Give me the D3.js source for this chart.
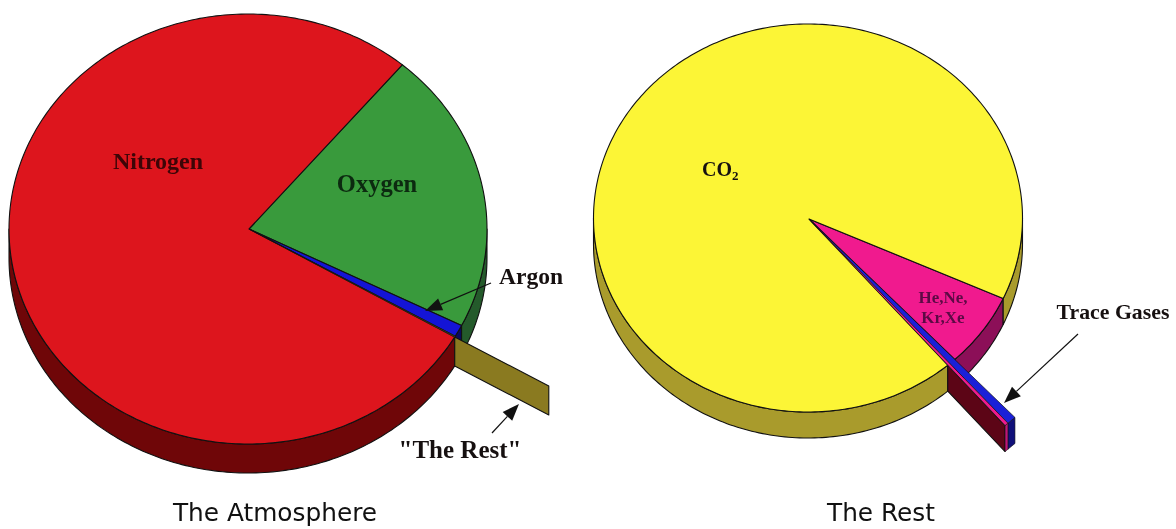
<!DOCTYPE html>
<html><head><meta charset="utf-8">
<script src="https://cdn.jsdelivr.net/npm/d3@7"></script>
<style>html,body{margin:0;background:#fff}svg{display:block;filter:blur(.5px)}</style></head>
<body><svg id="c" width="1176" height="529"></svg>
<script>
// Data (percent of each pie, in clockwise order)
const atmosphereNames = ["Oxygen","Argon","The Rest","Nitrogen"];
const atmosphereValues = [21.25,0.89,0.06,77.8];
const restNames = ["He,Ne,Kr,Xe","Trace A","Trace B","CO2"];
const restValues = [6.2,0.5,0.2,93.1];

const atmosphereTop = ["#399a3c","#1414d6","#8a7a20","#dd151d"];
const atmosphereSide = ["#245a2b","#0a0a60","#8a7a20","#6f0608"];
const restTop = ["#f01a8e","#1a20d8","#f01a8e","#fcf536"];
const restSide = ["#8c0f58","#10107a","#c01478","#a99b2c"];

const svg = d3.select("#c");
const line = d3.line().x(d=>d[0]).y(d=>d[1]);
const deg = Math.PI/180;

function drawPie(cfg){
  const x = d3.scaleLinear().domain([-1,1]).range([cfg.cx-cfg.rx,cfg.cx+cfg.rx]);
  const y = d3.scaleLinear().domain([-1,1]).range([cfg.cy-cfg.ry,cfg.cy+cfg.ry]);
  const P = (t,r,dz=0)=>[x(r*Math.sin(t)), y(-r*Math.cos(t))+dz];
  const apex = [cfg.ax,cfg.ay];
  const arcs = d3.pie().sort(null).value(d=>d.v)
    .startAngle(cfg.start*deg).endAngle((cfg.start+360)*deg)(cfg.names.map((n,i)=>({n,v:cfg.values[i],top:cfg.top[i],side:cfg.side[i],out:cfg.explode.includes(n)})));
  const samples=(a,b)=>{const n=Math.max(2,Math.ceil((b-a)/deg));return d3.range(n+1).map(i=>a+(b-a)*i/n)};
  const g = svg.append("g").attr("stroke","#111").attr("stroke-width",1.1).attr("stroke-linejoin","round");
  arcs.filter(a=>!a.data.out).forEach(a=>{
    [[a.startAngle,a.endAngle],[a.startAngle-2*Math.PI,a.endAngle-2*Math.PI]].forEach(([s,e])=>{
      const s2=Math.max(s,90*deg), e2=Math.min(e,270*deg);
      if(e2<=s2) return;
      const ts=samples(s2,e2);
      const pts=ts.map(t=>P(t,1)).concat(ts.slice().reverse().map(t=>P(t,1,cfg.depth)));
      g.append("path").attr("d",line(pts)+"Z").attr("fill",a.data.side);
    });
  });
  const outs=arcs.filter(a=>a.data.out);
  const last=outs[outs.length-1];
  const R=cfg.outR;
  g.append("path").attr("d",line([P(last.endAngle,1),P(last.endAngle,R),P(last.endAngle,R,cfg.depth),P(last.endAngle,1,cfg.depth)])+"Z").attr("fill",cfg.wall);
  arcs.filter(a=>!a.data.out).forEach(a=>{
    const pts=[apex].concat(samples(a.startAngle,a.endAngle).map(t=>P(t,1)));
    g.append("path").attr("d",line(pts)+"Z").attr("fill",a.data.top);
  });
  outs.forEach(a=>{
    if(cfg.outEnd){
      g.append("path").attr("d",line([P(a.startAngle,R),P(a.endAngle,R),P(a.endAngle,R,cfg.depth),P(a.startAngle,R,cfg.depth)])+"Z").attr("fill",a.data.side).attr("stroke-width",.6);
    }
    const rr=cfg.outEnd?R:1;
    g.append("path").attr("d",line([apex,P(a.startAngle,rr),P(a.endAngle,rr)])+"Z").attr("fill",a.data.top).attr("stroke-width",.7);
  });
}

drawPie({cx:248,cy:229,rx:239,ry:215,ax:249,ay:229,depth:29,start:40.2,
  names:atmosphereNames,values:atmosphereValues,top:atmosphereTop,side:atmosphereSide,
  explode:["The Rest"],outR:1.455,wall:"#8a7a20",outEnd:false});
drawPie({cx:808,cy:218,rx:214.5,ry:194,ax:809,ay:219,depth:26,start:114.5,
  names:restNames,values:restValues,top:restTop,side:restSide,
  explode:["Trace A","Trace B"],outR:1.41,wall:"#5c0516",outEnd:true});

const serif="'Liberation Serif',serif";
const T=(s,x,y,sz,anchor="start")=>svg.append("text").attr("x",x).attr("y",y).attr("font-family",serif).attr("font-weight","bold").attr("font-size",sz).attr("fill","#161010").attr("text-anchor",anchor).text(s);
T("Nitrogen",158,169,24,"middle").attr("fill","#3d0507");
T("Oxygen",377,192,24.5,"middle").attr("fill","#0c2a10");
T("Argon",499,284,23.5);
T("\"The Rest\"",460,458,25,"middle");
const co=T("CO",702,176,20);
co.append("tspan").attr("font-size",13).attr("dy",4).text("2");
T("He,Ne,",943,303,17,"middle").attr("fill","#5c0a45");
T("Kr,Xe",943,323,17,"middle").attr("fill","#5c0a45");
T("Trace Gases",1113,319,21.8,"middle");

function arrow(x1,y1,x2,y2){
  const a=Math.atan2(y2-y1,x2-x1),L=17,W=6.5;
  const bx=x2-L*Math.cos(a),by=y2-L*Math.sin(a);
  svg.append("line").attr("x1",x1).attr("y1",y1).attr("x2",bx).attr("y2",by).attr("stroke","#111").attr("stroke-width",1.2);
  svg.append("path").attr("d",line([[x2,y2],[bx-W*Math.sin(a),by+W*Math.cos(a)],[bx+W*Math.sin(a),by-W*Math.cos(a)]])+"Z").attr("fill","#111");
}
arrow(491,283,425,311);
arrow(492,433,519,404);
arrow(1078,334,1004,403);

const C=(s,x)=>svg.append("text").attr("x",x).attr("y",521).attr("text-anchor","middle").attr("font-family","'DejaVu Sans',sans-serif").attr("font-size",24.8).attr("fill","#111").text(s);
C("The Atmosphere",275);
C("The Rest",881);
</script></body></html>
